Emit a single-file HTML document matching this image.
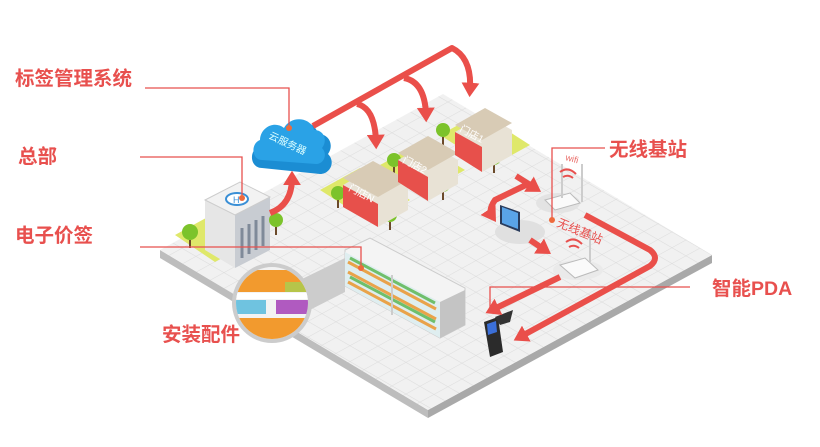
<!DOCTYPE html>
<html><head><meta charset="utf-8"><style>
html,body{margin:0;padding:0;background:#fff;width:820px;height:447px;overflow:hidden}
svg{display:block}
.l{font-family:"Liberation Sans","Noto Sans CJK SC",sans-serif;font-weight:bold;fill:#e8504e;font-size:19.5px}
</style></head><body>
<svg width="820" height="447" viewBox="0 0 820 447" xmlns="http://www.w3.org/2000/svg">
<defs>
<pattern id="g" width="14" height="14" patternUnits="userSpaceOnUse" patternTransform="matrix(1,0.58,-1,0.55,0,0)">
<rect width="14" height="14" fill="#f1f1f1"/><path d="M0 0H14M0 0V14" stroke="#dcdcdc" stroke-width="1"/>
</pattern>
<marker id="a" markerWidth="3" markerHeight="3" refX="1.2" refY="1.5" orient="auto" markerUnits="strokeWidth"><path d="M0,0 L2.4,1.5 L0,3 Z" fill="#ea4f4a"/></marker>
</defs>
<polygon points="160,250 428,410 428,418 160,258" fill="#bdbdbd"/>
<polygon points="428,410 712,255 712,263 428,418" fill="#a9a9a9"/>
<polygon points="160,250 443,94 712,255 428,410" fill="url(#g)"/>
<polygon points="175,235 215,213 255,240 215,262" fill="#dfe86a"/>
<polygon points="320,190 360,168 410,200 370,222" fill="#dfe86a"/>
<polygon points="380,165 420,143 465,170 425,192" fill="#dfe86a"/>
<polygon points="440,135 480,113 530,145 490,167" fill="#dfe86a"/>
<polygon points="205,200 240,182 270,197 270,250 235,268 205,250" fill="#e6e6e6"/>
<polygon points="235,215 270,197 270,250 235,268" fill="#c8ccd2"/>
<polygon points="205,200 240,182 270,197 235,215" fill="#f2f2f2" stroke="#ccc"/>
<ellipse cx="237" cy="199" rx="11" ry="6" fill="#fff" stroke="#3a8fd6" stroke-width="2"/>
<text x="233" y="203" font-size="9" fill="#3a8fd6" font-family="Liberation Sans">H</text>
<path d="M242 228v30M249 224v30M256 220v30M263 216v30" stroke="#7f8a99" stroke-width="3"/>
<g fill="#7cc32b"><circle cx="190" cy="232" r="8"/><circle cx="276" cy="220" r="7"/><circle cx="338" cy="193" r="7"/><circle cx="390" cy="215" r="7"/><circle cx="394" cy="160" r="7"/><circle cx="443" cy="185" r="7"/><circle cx="443" cy="130" r="7"/><circle cx="494" cy="158" r="7"/></g>
<g stroke="#6b4a2a" stroke-width="2"><path d="M190 240v8M276 227v8M338 200v8M390 222v8M394 167v8M443 192v8M443 137v8M494 165v8"/></g>
<g>
<polygon points="343,185 373,168 408,186 408,210 378,227 343,207" fill="#e8e2d5"/>
<polygon points="343,185 378,204 378,227 343,207" fill="#e7504b"/>
<polygon points="343,178 373,161 408,180 378,197" fill="#d8cbb5"/>
<text x="348" y="190" font-size="10" fill="#fff" font-family="Liberation Sans,Noto Sans CJK SC,sans-serif" transform="rotate(28 348 190)">门店N</text>
<polygon points="398,160 428,143 458,160 458,184 428,201 398,182" fill="#e8e2d5"/>
<polygon points="398,160 428,177 428,201 398,182" fill="#e7504b"/>
<polygon points="398,153 428,136 458,153 428,170" fill="#d8cbb5"/>
<text x="402" y="162" font-size="10" fill="#fff" font-family="Liberation Sans,Noto Sans CJK SC,sans-serif" transform="rotate(28 402 162)">门店2</text>
<polygon points="455,132 485,115 512,130 512,155 482,172 455,155" fill="#e8e2d5"/>
<polygon points="455,132 482,147 482,172 455,155" fill="#e7504b"/>
<polygon points="455,125 485,108 512,123 482,140" fill="#d8cbb5"/>
<text x="459" y="131" font-size="10" fill="#fff" font-family="Liberation Sans,Noto Sans CJK SC,sans-serif" transform="rotate(28 459 131)">门店1</text>
</g>
<polygon points="345,250 370,238 465,288 465,325 440,338 345,286" fill="#f4f4f4" stroke="#ccc"/>
<polygon points="345,252 440,302 440,338 345,286" fill="#dfeef0"/>
<path d="M348 262l88 47M348 272l88 47M348 282l88 47" stroke="#e9a34a" stroke-width="3"/>
<path d="M350 258l85 45M350 277l85 45" stroke="#6fbf6b" stroke-width="3"/>
<path d="M392 275v40" stroke="#ccc" stroke-width="2"/>
<polygon points="440,302 465,290 465,325 440,338" fill="#c4c4c4"/>
<polygon points="300,280 345,258 345,292 300,315" fill="#ccc"/>
<circle cx="272" cy="303" r="40" fill="#ccc"/>
<circle cx="272" cy="303" r="36" fill="#f3f3f3"/>
<clipPath id="c"><circle cx="272" cy="303" r="36"/></clipPath>
<g clip-path="url(#c)">
<rect x="236" y="270" width="72" height="22" fill="#f29a2e"/>
<rect x="285" y="282" width="25" height="10" fill="#b6c54a"/>
<rect x="236" y="293" width="72" height="6" fill="#fff"/>
<rect x="236" y="300" width="30" height="14" fill="#6fc3e0"/>
<rect x="276" y="300" width="40" height="14" fill="#b05ac0"/>
<rect x="236" y="318" width="72" height="22" fill="#f29a2e"/>
</g>
<path d="M262 168c-12 0-14-18-2-22 0-14 16-22 26-14 6-14 28-14 32 2 12 0 16 12 10 20 8 8 2 20-8 20z" fill="#1b8dd3"/>
<path d="M262 160c-10 0-12-16-2-20 0-12 14-20 24-12 6-12 26-12 30 2 10 0 14 10 8 18 6 6 2 16-6 16z" fill="#2aa2e6"/>
<text x="268" y="138" font-size="10" fill="#dff" font-family="Liberation Sans,Noto Sans CJK SC,sans-serif" transform="rotate(25 268 138)">云服务器</text>
<ellipse cx="520" cy="232" rx="25" ry="12" fill="#e0e0e0"/>
<polygon points="500,205 520,212 520,232 500,224" fill="#2a3c5c"/>
<polygon points="502,207 518,213 518,229 502,223" fill="#5aa4e8"/>
<ellipse cx="558" cy="203" rx="22" ry="10" fill="#e3e3e3"/>
<polygon points="545,200 570,193 580,203 555,210" fill="#fafafa" stroke="#bbb"/>
<path d="M562 198v-34M582 202v-38" stroke="#ccc" stroke-width="2"/>
<text x="565" y="160" font-size="9" fill="#e96a66" font-family="Liberation Sans" transform="rotate(15 565 160)">wifi</text>
<ellipse cx="578" cy="270" rx="25" ry="10" fill="#eaeaea"/>
<polygon points="560,265 585,258 598,270 575,278" fill="#fafafa" stroke="#bbb"/>
<path d="M590 262v-32" stroke="#ccc" stroke-width="2"/>
<g fill="none" stroke="#e8504e" stroke-width="2"><path d="M560 172q8-6 16 2M563 177q5-3 10 1"/><path d="M566 242q8-6 16 2M569 247q5-3 10 1"/></g>
<text x="556" y="226" font-size="12" fill="#e8504e" font-family="Liberation Sans,Noto Sans CJK SC,sans-serif" transform="rotate(22 556 226)">无线基站</text>
<polygon points="484,322 498,317 503,352 490,357" fill="#2b2b2b"/>
<polygon points="487,324 496,321 497,332 488,335" fill="#3b6fd8"/>
<polygon points="495,317 513,310 510,322 500,325" fill="#333"/>
<g fill="none" stroke="#ea4f4a" stroke-width="6" stroke-linejoin="round">
<path d="M270 213 Q292 205 292 178" marker-end="url(#a)"/>
<path d="M313 126 L452 48 Q472 58 470 90" marker-end="url(#a)"/>
<path d="M357 104 Q375 108 376 142" marker-end="url(#a)"/>
<path d="M404 78 Q425 82 426 115" marker-end="url(#a)"/>
<path d="M516 176 L535 188" marker-end="url(#a)"/>
<path d="M528 184 L495 200 Q488 210 492 216" marker-end="url(#a)"/>
<path d="M530 240 L545 250" marker-end="url(#a)"/>
<path d="M560 277 L492 310" marker-end="url(#a)"/>
<path d="M585 215 L650 250 Q660 258 650 266 L520 337" marker-end="url(#a)"/>
</g>
<g fill="none" stroke="#e8504e" stroke-width="1.3">
<path d="M145 88H289V128"/><path d="M140 157H242V198"/><path d="M140 247H361V268"/>
<path d="M605 148H552V220"/><path d="M690 287H490V312"/>
</g>
<g fill="#ee6a3c"><circle cx="289" cy="128" r="3"/><circle cx="242" cy="198" r="3"/><circle cx="361" cy="268" r="3"/><circle cx="552" cy="220" r="3"/></g>
<text class="l" x="15" y="85">标签管理系统</text>
<text class="l" x="18" y="163">总部</text>
<text class="l" x="15" y="242">电子价签</text>
<text class="l" x="162" y="341">安装配件</text>
<text class="l" x="609" y="156">无线基站</text>
<text class="l" x="712" y="295">智能PDA</text>
</svg>
</body></html>
